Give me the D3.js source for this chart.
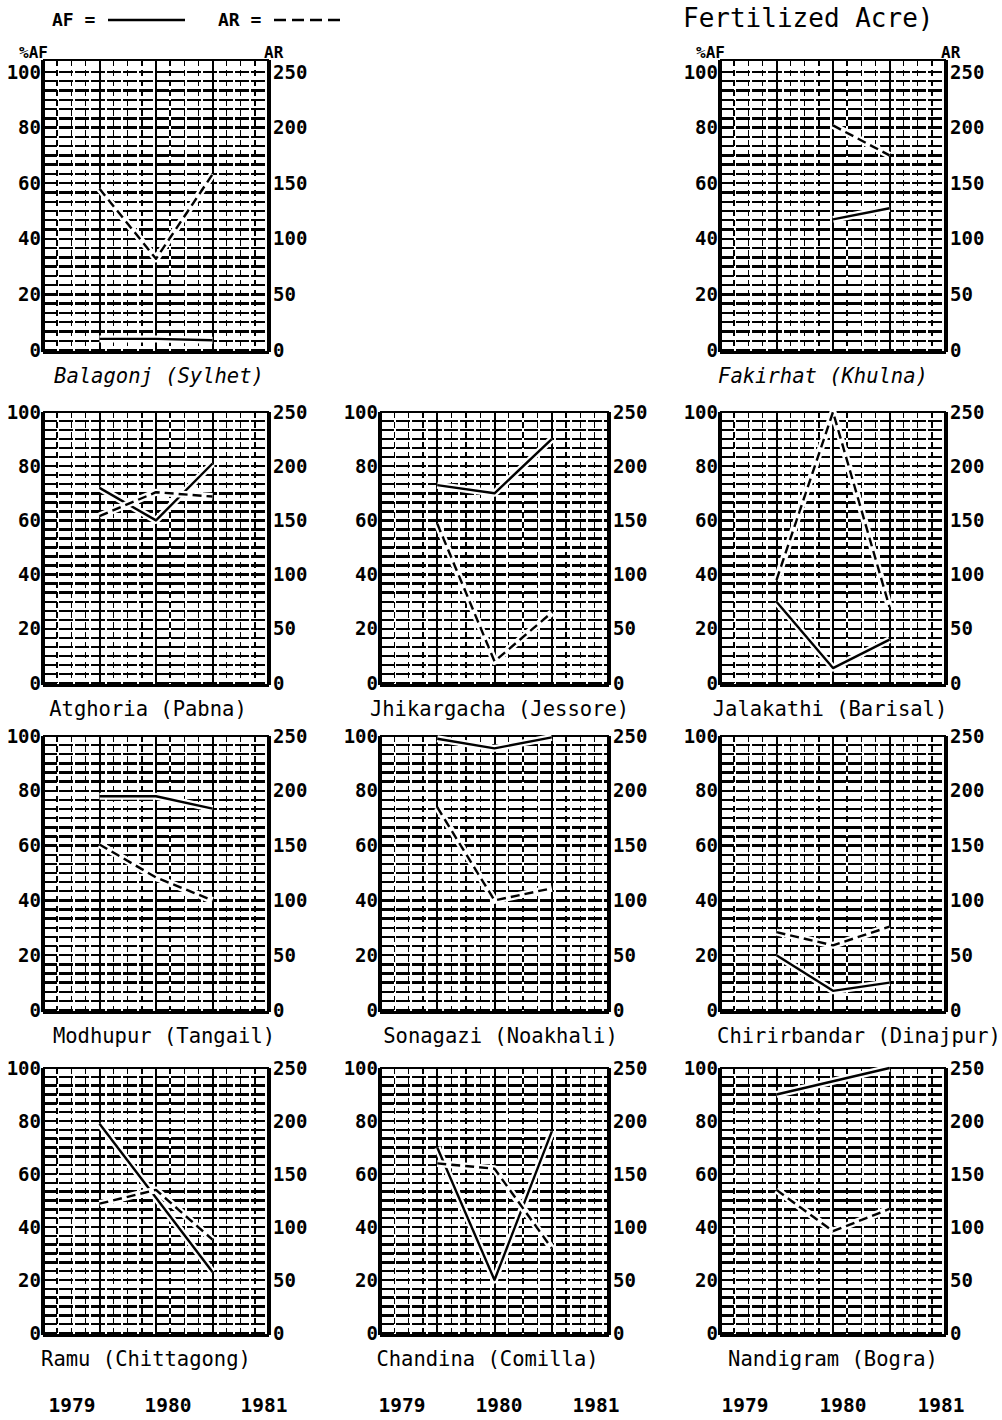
<!DOCTYPE html>
<html><head><meta charset="utf-8">
<script src="https://cdn.jsdelivr.net/npm/d3@7"></script>
<style>body{margin:0;background:#fff} svg{display:block}</style>
</head><body><svg id="c" width="1002" height="1420"></svg>
<script>
// ---------------- data ----------------
const years = [1979, 1980, 1981];
const yearLabels = ["1979", "1980", "1981"];
const panelNames = ["Balagonj (Sylhet)", "Fakirhat (Khulna)", "Atghoria (Pabna)", "Jhikargacha (Jessore)",
  "Jalakathi (Barisal)", "Modhupur (Tangail)", "Sonagazi (Noakhali)", "Chirirbandar (Dinajpur)",
  "Ramu (Chittagong)", "Chandina (Comilla)", "Nandigram (Bogra)"];
// AF = % of acres fertilized (left axis), AR = application rate (right axis)
const afValues = [[4, 4, 3.5], [null, 47, 51], [72, 60, 81], [73, 70, 90], [30, 5.5, 16], [78, 78, 73.5],
  [99, 95.5, 99.5], [20, 7, 10], [79, 51, 23], [70, 20, 76], [90, 95, 100]];
const arValues = [[145, 82, 158], [null, 202, 175], [154, 176, 172], [147, 20, 65], [95, 250, 70], [151, 121, 100],
  [185, 100, 111], [71, 59, 76], [122, 135, 88], [160, 155, 80], [135, 96, 117]];
const afTicks = [0, 20, 40, 60, 80, 100];
const arTicks = [0, 50, 100, 150, 200, 250];
const legendLabels = ["AF =", "AR ="];
const headerText = "Fertilized Acre)";

// ---------------- layout ----------------
const colX = [[43, 269], [380, 609], [720, 946]];
const rowY = [[350, 72], [683, 412], [1010, 736], [1333, 1068]];
const cells = [[0, 0], [0, 2], [1, 0], [1, 1], [1, 2], [2, 0], [2, 1], [2, 2], [3, 0], [3, 1], [3, 2]];
const titleDx = [3, -10, -8, 5, -3, 8, 6, 26, -10, -7, 0];
const yearRange = [[72, 264], [402, 596], [745, 941]];
const mono = "'DejaVu Sans Mono', 'Liberation Mono', monospace";

const svg = d3.select("#c");

// legend
const lg = svg.append("g").attr("font-family", mono).attr("font-weight", "bold").attr("font-size", 18);
lg.append("text").attr("x", 52).attr("y", 26).text(legendLabels[0]);
lg.append("line").attr("x1", 108).attr("x2", 185).attr("y1", 20).attr("y2", 20)
  .attr("stroke", "#000").attr("stroke-width", 2.5);
lg.append("text").attr("x", 218).attr("y", 26).text(legendLabels[1]);
lg.append("line").attr("x1", 274).attr("x2", 346).attr("y1", 20).attr("y2", 20)
  .attr("stroke", "#000").attr("stroke-width", 2.5).attr("stroke-dasharray", "12,6");

svg.append("text").attr("x", 683).attr("y", 27).attr("font-family", mono).attr("font-size", 26)
  .text(headerText);

panelNames.forEach((name, i) => {
  const [r, c] = cells[i];
  const x = d3.scaleLinear().domain([1978, 1982]).range(colX[c]);
  const yL = d3.scaleLinear().domain([0, 100]).range(rowY[r]);
  const yR = d3.scaleLinear().domain([0, 250]).range(rowY[r]);
  const g = svg.append("g");
  const top = r === 0 ? yL(100) - 12 : yL(100);

  // horizontal grid (30 rows)
  const grid = g.append("g").attr("stroke", "#000").attr("shape-rendering", "crispEdges");
  grid.selectAll("line.h").data(d3.range(0, 31)).join("line")
    .attr("x1", x(1978)).attr("x2", x(1982))
    .attr("y1", k => yL(k * 100 / 30)).attr("y2", k => yL(k * 100 / 30))
    .attr("stroke-width", 2.4).attr("stroke-dasharray", "14,2");
  // minor verticals
  grid.selectAll("line.m").data(d3.range(1978.25, 1982, 0.25).filter(v => v % 1 !== 0)).join("line")
    .attr("x1", v => x(v)).attr("x2", v => x(v))
    .attr("y1", top).attr("y2", yL(0))
    .attr("stroke-width", 1.3).attr("stroke-dasharray", "6,4");
  // major verticals
  grid.selectAll("line.M").data([1979, 1980, 1981]).join("line")
    .attr("x1", v => x(v)).attr("x2", v => x(v))
    .attr("y1", top).attr("y2", yL(0)).attr("stroke-width", 2);
  // frame
  grid.append("line").attr("x1", x(1978)).attr("x2", x(1978)).attr("y1", top).attr("y2", yL(0) + 2).attr("stroke-width", 3.5);
  grid.append("line").attr("x1", x(1982)).attr("x2", x(1982)).attr("y1", top).attr("y2", yL(0) + 2).attr("stroke-width", 3.5);
  grid.append("line").attr("x1", x(1978)).attr("x2", x(1982)).attr("y1", yL(0) + 2).attr("y2", yL(0) + 2).attr("stroke-width", 3);
  grid.append("line").attr("x1", x(1978)).attr("x2", x(1982)).attr("y1", top).attr("y2", top).attr("stroke-width", 2.5);

  // axes
  const axL = g.append("g").attr("transform", `translate(${x(1978) - 1},0)`)
    .call(d3.axisLeft(yL).tickValues(afTicks).tickSize(0).tickPadding(1));
  const axR = g.append("g").attr("transform", `translate(${x(1982) + 1},0)`)
    .call(d3.axisRight(yR).tickValues(arTicks).tickSize(0).tickPadding(3));
  [axL, axR].forEach(a => {
    a.select(".domain").remove();
    a.selectAll("text").attr("font-family", mono).attr("font-weight", "bold").attr("font-size", 19).attr("fill", "#000");
  });

  if (r === 0) {
    g.append("text").attr("x", x(1978) - 24).attr("y", top - 2).attr("font-family", mono).attr("font-weight", "bold")
      .attr("font-size", 16).text("%AF");
    g.append("text").attr("x", x(1982) - 5).attr("y", top - 2).attr("font-family", mono).attr("font-weight", "bold")
      .attr("font-size", 16).text("AR");
  }

  // data lines
  const afPts = years.map((yr, j) => ({ year: yr, v: afValues[i][j] }));
  const arPts = years.map((yr, j) => ({ year: yr, v: arValues[i][j] }));
  const lineL = d3.line().defined(d => d.v != null).x(d => x(d.year)).y(d => yL(d.v));
  const lineR = d3.line().defined(d => d.v != null).x(d => x(d.year)).y(d => yR(d.v));
  [[lineL(afPts), null], [lineR(arPts), "9,5"]].forEach(([path, dash]) => {
    g.append("path").attr("d", path).attr("fill", "none").attr("stroke", "#fff").attr("stroke-width", 7)
      .attr("stroke-linejoin", "round");
    g.append("path").attr("d", path).attr("fill", "none").attr("stroke", "#000").attr("stroke-width", 2.4)
      .attr("stroke-linejoin", "round").attr("stroke-dasharray", dash);
  });

  // title
  g.append("text").attr("x", (x(1978) + x(1982)) / 2 + titleDx[i]).attr("y", yL(0) + 33)
    .attr("text-anchor", "middle").attr("font-family", mono).attr("font-size", 20.5)
    .attr("font-style", r === 0 ? "italic" : "normal").text(name);
});

// year labels under each column
colX.forEach((cx, c) => {
  const ys = d3.scalePoint().domain(yearLabels).range(yearRange[c]);
  svg.append("g").selectAll("text").data(yearLabels).join("text")
    .attr("x", d => ys(d)).attr("y", 1412).attr("text-anchor", "middle")
    .attr("font-family", mono).attr("font-weight", "bold").attr("font-size", 19.5).text(d => d);
});
</script>
</body></html>
